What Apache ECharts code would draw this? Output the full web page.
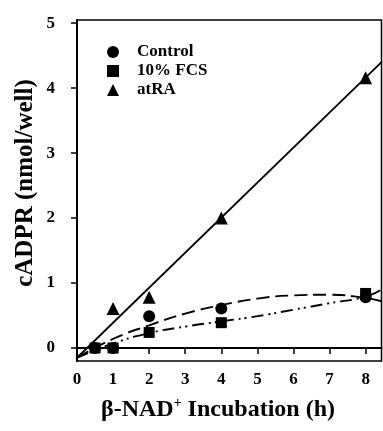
<!DOCTYPE html>
<html>
<head>
<meta charset="utf-8">
<script src="https://cdn.jsdelivr.net/npm/echarts@6/dist/echarts.min.js"></script>
<style>html,body{margin:0;padding:0;background:#fff;}#c{width:383px;height:431px;}</style>
</head>
<body>
<div id="c"></div>
<script>
// Measured points
const controlData = [[0.5, 0.0], [1, 0.0], [2, 0.49], [4, 0.61], [8, 0.78]];
const fcsData     = [[0.5, 0.0], [1, 0.0], [2, 0.24], [4, 0.39], [8, 0.84]];
const atraData    = [[1, 0.61], [2, 0.78], [4, 2.0], [8, 4.16]];
// Fit curves
const atraFit    = [[0, -0.15], [8.44, 4.4]];
const controlFit = [[0, -0.15], [1, 0.14], [2, 0.35], [3, 0.53], [4, 0.66], [5, 0.76], [6, 0.81], [7, 0.82], [8, 0.77], [8.44, 0.72]];
const fcsFit     = [[0, -0.15], [1, 0.07], [2, 0.23], [3, 0.33], [4, 0.41], [5, 0.49], [6, 0.59], [7, 0.69], [8, 0.79], [8.44, 0.9]];
const xTicks = [0, 1, 2, 3, 4, 5, 6, 7, 8];
const yTicks = [0, 1, 2, 3, 4, 5];

const FONT = '"Liberation Serif", "Times New Roman", serif';
const chart = echarts.init(document.getElementById('c'), null, {renderer: 'canvas'});
chart.setOption({
  animation: false,
  backgroundColor: '#fff',
  grid: {left: 77, right: 1.5, top: 20, bottom: 70, show: true, borderColor: '#000', borderWidth: 1.5, containLabel: false},
  legend: {
    left: 102, top: 38, orient: 'vertical', itemWidth: 12, itemHeight: 12, itemGap: 1,
    data: [{name: 'Control', icon: 'circle'}, {name: '10% FCS', icon: 'rect'}, {name: 'atRA', icon: 'triangle'}],
    itemStyle: {color: '#000', opacity: 1},
    textStyle: {fontFamily: FONT, fontWeight: 'bold', fontSize: 17, color: '#000', padding: [0, 0, 0, 13], lineHeight: 18},
    selectedMode: false
  },
  xAxis: {
    type: 'value', min: 0, max: 8.44,
    axisLine: {lineStyle: {color: '#000', width: 2}},
    axisTick: {customValues: xTicks, length: 6, lineStyle: {color: '#000', width: 1.5}},
    axisLabel: {customValues: xTicks, margin: 10, fontFamily: FONT, fontWeight: 'bold', fontSize: 17, color: '#000'},
    splitLine: {show: false}
  },
  yAxis: {
    type: 'value', min: -0.2, max: 5.05,
    axisLine: {show: true, lineStyle: {color: '#000', width: 2}},
    axisTick: {show: true, customValues: yTicks, length: 6, lineStyle: {color: '#000', width: 1.5}},
    axisLabel: {customValues: yTicks, margin: 22, fontFamily: FONT, fontWeight: 'bold', fontSize: 17, color: '#000'},
    splitLine: {show: false}
  },
  graphic: [
    {type: 'text', x: 218, y: 410, style: {
      text: '{a|β-NAD}{s|+}{a| Incubation (h)}', align: 'center', verticalAlign: 'middle',
      rich: {a: {fontFamily: FONT, fontWeight: 'bold', fontSize: 24, fill: '#000', lineHeight: 27},
             s: {fontFamily: FONT, fontWeight: 'bold', fontSize: 14, fill: '#000', verticalAlign: 'top', lineHeight: 27, padding: [0, 0, 11, 0]}}
    }},
    {type: 'text', x: 26, y: 183, rotation: Math.PI / 2, style: {
      text: 'cADPR (nmol/well)', align: 'center', verticalAlign: 'middle',
      fontFamily: FONT, fontWeight: 'bold', fontSize: 25, fill: '#000'
    }}
  ],
  series: [
    {type: 'line', name: 'atRA fit', data: atraFit, showSymbol: false, silent: true, lineStyle: {color: '#000', width: 1.8}, z: 2},
    {type: 'line', name: 'Control fit', data: controlFit, smooth: true, showSymbol: false, silent: true, lineStyle: {color: '#000', width: 1.9, type: [13, 6]}, z: 2},
    {type: 'line', name: 'FCS fit', data: fcsFit, smooth: true, showSymbol: false, silent: true, lineStyle: {color: '#000', width: 1.9, type: [12, 5, 2, 4, 2, 5]}, z: 2},
    {type: 'scatter', name: '10% FCS', data: fcsData, symbol: 'rect', symbolSize: 11, itemStyle: {color: '#000', opacity: 1}, z: 3},
    {type: 'scatter', name: 'Control', data: controlData, symbol: 'circle', symbolSize: 12, itemStyle: {color: '#000', opacity: 1}, z: 4},
    {type: 'scatter', name: 'atRA', data: atraData, symbol: 'triangle', symbolSize: 13, itemStyle: {color: '#000', opacity: 1}, z: 4}
  ]
});
</script>
</body>
</html>
